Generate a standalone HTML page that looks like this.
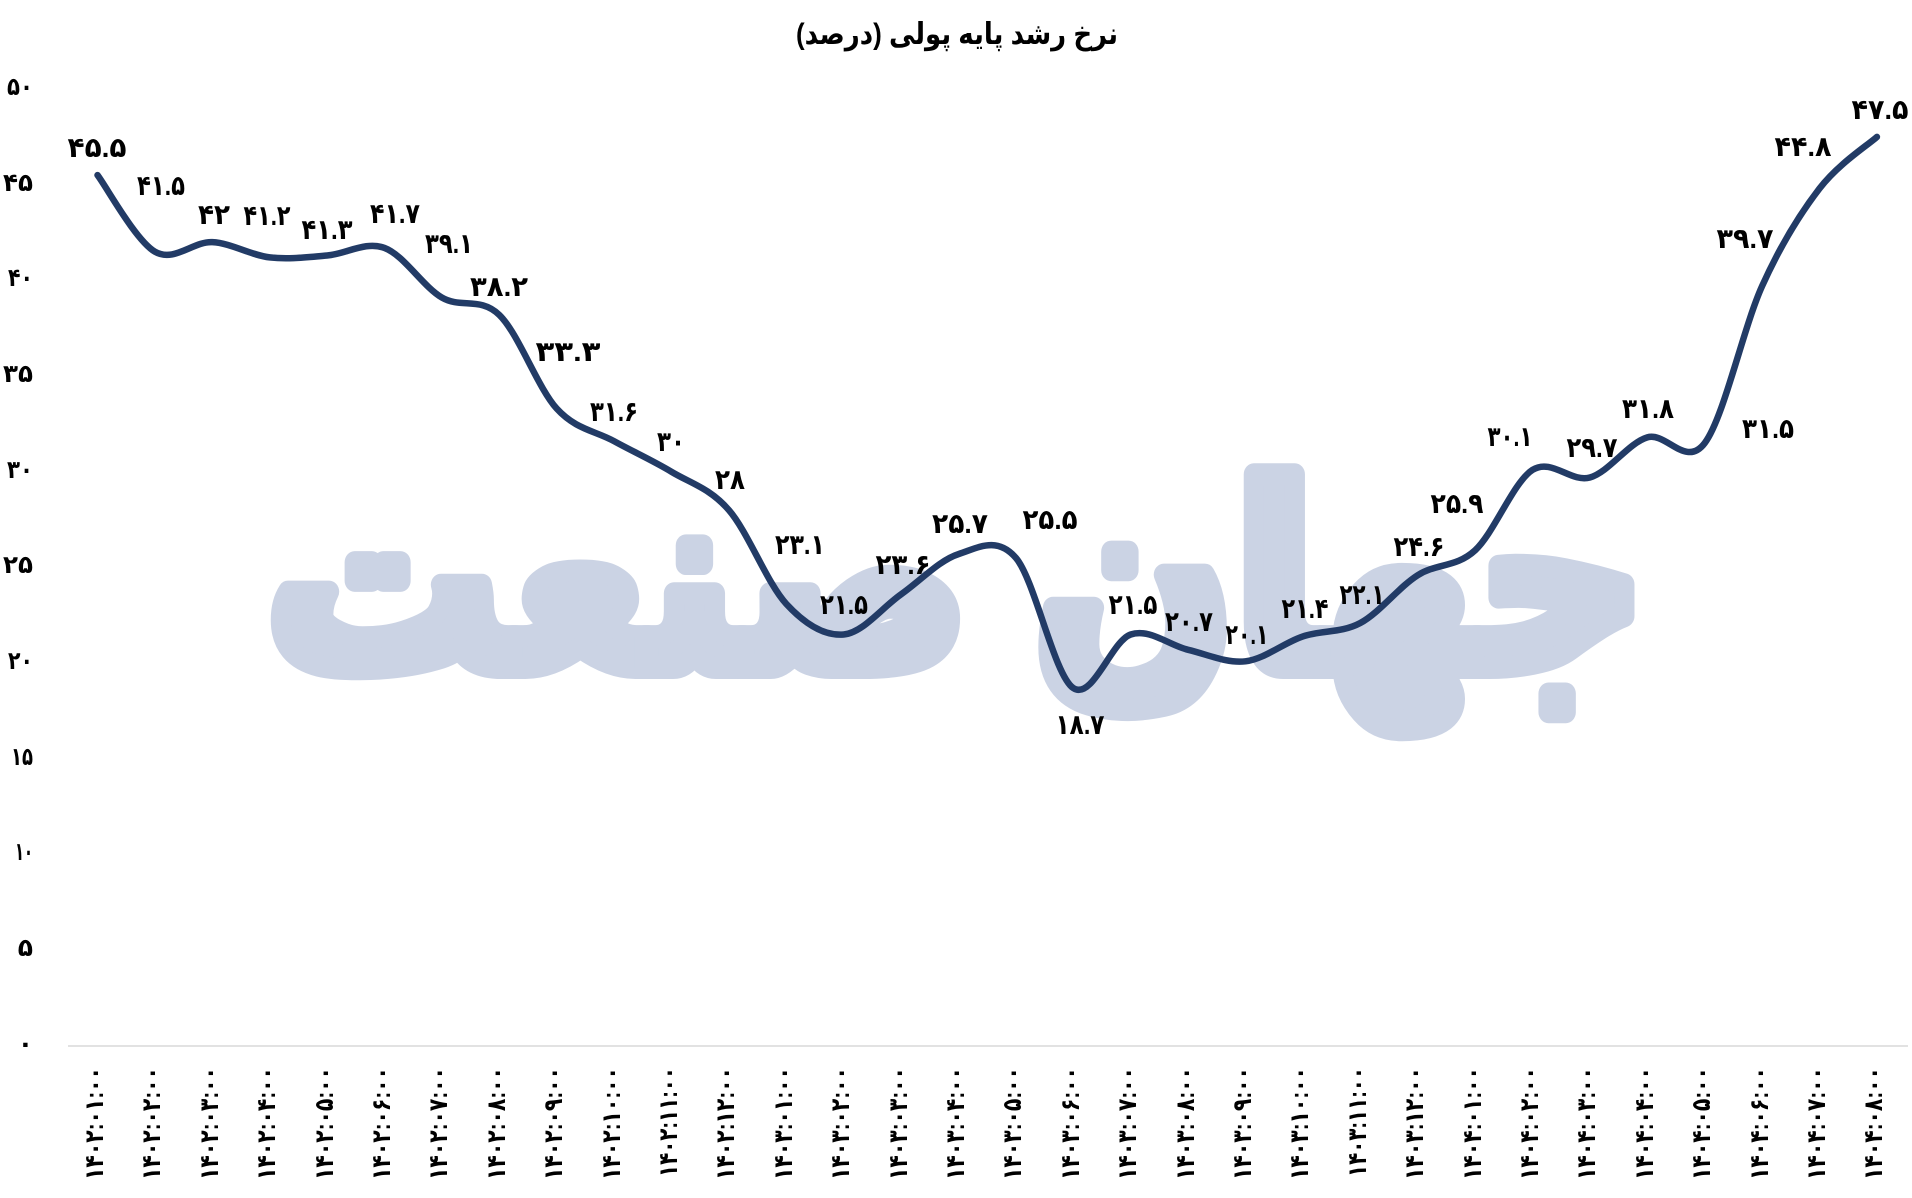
<!DOCTYPE html>
<html><head><meta charset="utf-8">
<style>
html,body{margin:0;padding:0;background:#fff;}
body{width:1912px;height:1198px;overflow:hidden;}
svg{display:block;}
text{font-family:"Liberation Sans","DejaVu Sans",sans-serif;font-weight:bold;fill:#000;}
.wm{fill:#cbd3e4;stroke:#cbd3e4;stroke-width:22;stroke-linejoin:round;}
.yt{font-size:25px;}
.xt{font-size:26px;}
.dl{font-size:28px;}
</style></head>
<body>
<svg width="1912" height="1198" viewBox="0 0 1912 1198" xmlns="http://www.w3.org/2000/svg">
<rect x="0" y="0" width="1912" height="1198" fill="#fff"/>
<!-- watermark -->
<text class="wm" x="956" y="668" font-size="255" text-anchor="middle" direction="rtl" textLength="1380" lengthAdjust="spacingAndGlyphs">جهان صنعت</text>

<!-- title -->
<text x="957" y="44" font-size="30" text-anchor="middle" direction="rtl" textLength="322" lengthAdjust="spacingAndGlyphs">نرخ رشد پایه پولی (درصد)</text>

<!-- axis line -->
<line x1="68" y1="1046" x2="1908" y2="1046" stroke="#d9d9d9" stroke-width="1.5"/>

<!-- y tick labels -->
<g class="yt" text-anchor="end">
<text x="33" y="95" textLength="26" lengthAdjust="spacingAndGlyphs">۵۰</text>
<text x="33" y="191" textLength="30" lengthAdjust="spacingAndGlyphs">۴۵</text>
<text x="33" y="286" textLength="25" lengthAdjust="spacingAndGlyphs">۴۰</text>
<text x="33" y="382" textLength="30" lengthAdjust="spacingAndGlyphs">۳۵</text>
<text x="33" y="478" textLength="26" lengthAdjust="spacingAndGlyphs">۳۰</text>
<text x="33" y="573" textLength="30" lengthAdjust="spacingAndGlyphs">۲۵</text>
<text x="33" y="669" textLength="25" lengthAdjust="spacingAndGlyphs">۲۰</text>
<text x="33" y="765" textLength="22" lengthAdjust="spacingAndGlyphs">۱۵</text>
<text x="33" y="860" textLength="18" lengthAdjust="spacingAndGlyphs">۱۰</text>
<text x="33" y="956">۵</text>
<text x="33" y="1052">۰</text>
</g>

<!-- x tick labels -->
<g class="xt" text-anchor="end">
<text transform="translate(103,1067) rotate(-90)" textLength="113" lengthAdjust="spacingAndGlyphs">۱۴۰۲:۰۱:۰۰</text>
<text transform="translate(160,1067) rotate(-90)" textLength="113" lengthAdjust="spacingAndGlyphs">۱۴۰۲:۰۲:۰۰</text>
<text transform="translate(218,1067) rotate(-90)" textLength="113" lengthAdjust="spacingAndGlyphs">۱۴۰۲:۰۳:۰۰</text>
<text transform="translate(275,1067) rotate(-90)" textLength="113" lengthAdjust="spacingAndGlyphs">۱۴۰۲:۰۴:۰۰</text>
<text transform="translate(333,1067) rotate(-90)" textLength="113" lengthAdjust="spacingAndGlyphs">۱۴۰۲:۰۵:۰۰</text>
<text transform="translate(390,1067) rotate(-90)" textLength="113" lengthAdjust="spacingAndGlyphs">۱۴۰۲:۰۶:۰۰</text>
<text transform="translate(447,1067) rotate(-90)" textLength="113" lengthAdjust="spacingAndGlyphs">۱۴۰۲:۰۷:۰۰</text>
<text transform="translate(505,1067) rotate(-90)" textLength="113" lengthAdjust="spacingAndGlyphs">۱۴۰۲:۰۸:۰۰</text>
<text transform="translate(562,1067) rotate(-90)" textLength="113" lengthAdjust="spacingAndGlyphs">۱۴۰۲:۰۹:۰۰</text>
<text transform="translate(620,1067) rotate(-90)" textLength="113" lengthAdjust="spacingAndGlyphs">۱۴۰۲:۱۰:۰۰</text>
<text transform="translate(677,1067) rotate(-90)" textLength="110" lengthAdjust="spacingAndGlyphs">۱۴۰۲:۱۱:۰۰</text>
<text transform="translate(734,1067) rotate(-90)" textLength="113" lengthAdjust="spacingAndGlyphs">۱۴۰۲:۱۲:۰۰</text>
<text transform="translate(792,1067) rotate(-90)" textLength="113" lengthAdjust="spacingAndGlyphs">۱۴۰۳:۰۱:۰۰</text>
<text transform="translate(849,1067) rotate(-90)" textLength="113" lengthAdjust="spacingAndGlyphs">۱۴۰۳:۰۲:۰۰</text>
<text transform="translate(907,1067) rotate(-90)" textLength="113" lengthAdjust="spacingAndGlyphs">۱۴۰۳:۰۳:۰۰</text>
<text transform="translate(964,1067) rotate(-90)" textLength="113" lengthAdjust="spacingAndGlyphs">۱۴۰۳:۰۴:۰۰</text>
<text transform="translate(1021,1067) rotate(-90)" textLength="113" lengthAdjust="spacingAndGlyphs">۱۴۰۳:۰۵:۰۰</text>
<text transform="translate(1079,1067) rotate(-90)" textLength="113" lengthAdjust="spacingAndGlyphs">۱۴۰۳:۰۶:۰۰</text>
<text transform="translate(1136,1067) rotate(-90)" textLength="113" lengthAdjust="spacingAndGlyphs">۱۴۰۳:۰۷:۰۰</text>
<text transform="translate(1194,1067) rotate(-90)" textLength="113" lengthAdjust="spacingAndGlyphs">۱۴۰۳:۰۸:۰۰</text>
<text transform="translate(1251,1067) rotate(-90)" textLength="113" lengthAdjust="spacingAndGlyphs">۱۴۰۳:۰۹:۰۰</text>
<text transform="translate(1308,1067) rotate(-90)" textLength="113" lengthAdjust="spacingAndGlyphs">۱۴۰۳:۱۰:۰۰</text>
<text transform="translate(1366,1067) rotate(-90)" textLength="110" lengthAdjust="spacingAndGlyphs">۱۴۰۳:۱۱:۰۰</text>
<text transform="translate(1423,1067) rotate(-90)" textLength="113" lengthAdjust="spacingAndGlyphs">۱۴۰۳:۱۲:۰۰</text>
<text transform="translate(1481,1067) rotate(-90)" textLength="113" lengthAdjust="spacingAndGlyphs">۱۴۰۴:۰۱:۰۰</text>
<text transform="translate(1538,1067) rotate(-90)" textLength="113" lengthAdjust="spacingAndGlyphs">۱۴۰۴:۰۲:۰۰</text>
<text transform="translate(1595,1067) rotate(-90)" textLength="113" lengthAdjust="spacingAndGlyphs">۱۴۰۴:۰۳:۰۰</text>
<text transform="translate(1653,1067) rotate(-90)" textLength="113" lengthAdjust="spacingAndGlyphs">۱۴۰۴:۰۴:۰۰</text>
<text transform="translate(1710,1067) rotate(-90)" textLength="113" lengthAdjust="spacingAndGlyphs">۱۴۰۴:۰۵:۰۰</text>
<text transform="translate(1768,1067) rotate(-90)" textLength="113" lengthAdjust="spacingAndGlyphs">۱۴۰۴:۰۶:۰۰</text>
<text transform="translate(1825,1067) rotate(-90)" textLength="113" lengthAdjust="spacingAndGlyphs">۱۴۰۴:۰۷:۰۰</text>
<text transform="translate(1882,1067) rotate(-90)" textLength="113" lengthAdjust="spacingAndGlyphs">۱۴۰۴:۰۸:۰۰</text>
</g>

<!-- series line -->
<path fill="none" stroke="#223b66" stroke-width="6.5" stroke-linecap="round" stroke-linejoin="round"
d="M97.5,175.1
C107.07,187.87 135.77,240.53 154.9,251.7
C174.03,262.87 193.17,241.15 212.3,242.1
C231.43,243.05 250.57,255.17 269.7,257.4
C288.83,259.63 307.97,257.08 327.1,255.5
C346.23,253.92 365.37,240.88 384.5,247.9
C403.63,254.92 422.77,286.43 441.9,297.6
C461.03,308.77 480.17,296.4 499.3,314.9
C518.43,333.4 537.57,387.55 556.7,408.6
C575.83,429.65 594.97,430.67 614.1,441.2
C633.23,451.73 652.37,460.32 671.5,471.8
C690.63,483.28 709.77,488.08 728.9,510.1
C748.03,532.12 767.17,583.17 786.3,603.9
C805.43,624.63 824.57,636.1 843.7,634.5
C862.83,632.9 881.97,607.7 901.1,594.3
C920.23,580.9 939.37,560.17 958.5,554.1
C977.63,548.03 996.77,535.57 1015.9,557.9
C1035.03,580.23 1054.17,675.33 1073.3,688.1
C1092.43,700.87 1111.57,640.88 1130.7,634.5
C1149.83,628.12 1168.97,645.33 1188.1,649.8
C1207.23,654.27 1226.37,663.53 1245.5,661.3
C1264.63,659.07 1283.77,642.78 1302.9,636.4
C1322.03,630.02 1341.17,633.2 1360.3,623
C1379.43,612.8 1398.57,587.32 1417.7,575.2
C1436.83,563.08 1455.97,567.85 1475.1,550.3
C1494.23,532.75 1513.37,482.03 1532.5,469.9
C1551.63,457.77 1570.77,482.92 1589.9,477.5
C1609.03,472.08 1628.17,443.13 1647.3,437.4
C1666.43,431.67 1685.57,468.32 1704.7,443.1
C1723.83,417.88 1742.97,328.53 1762.1,286.1
C1781.23,243.67 1800.37,213.37 1819.5,188.5
C1838.63,163.63 1867.33,145.5 1876.9,136.9"/>

<!-- data labels -->
<g class="dl" text-anchor="middle">
<text x="97" y="157" textLength="59" lengthAdjust="spacingAndGlyphs">۴۵.۵</text>
<text x="161" y="195" textLength="48" lengthAdjust="spacingAndGlyphs">۴۱.۵</text>
<text x="214" y="224" textLength="32" lengthAdjust="spacingAndGlyphs">۴۲</text>
<text x="267" y="225" textLength="47" lengthAdjust="spacingAndGlyphs">۴۱.۲</text>
<text x="327" y="239" textLength="51" lengthAdjust="spacingAndGlyphs">۴۱.۳</text>
<text x="395" y="223" textLength="50" lengthAdjust="spacingAndGlyphs">۴۱.۷</text>
<text x="449" y="253" textLength="48" lengthAdjust="spacingAndGlyphs">۳۹.۱</text>
<text x="499" y="296" textLength="58" lengthAdjust="spacingAndGlyphs">۳۸.۲</text>
<text x="568" y="361" textLength="65" lengthAdjust="spacingAndGlyphs">۳۳.۳</text>
<text x="614" y="421" textLength="48" lengthAdjust="spacingAndGlyphs">۳۱.۶</text>
<text x="671" y="451" textLength="28" lengthAdjust="spacingAndGlyphs">۳۰</text>
<text x="730" y="489" textLength="30" lengthAdjust="spacingAndGlyphs">۲۸</text>
<text x="800" y="554" textLength="50" lengthAdjust="spacingAndGlyphs">۲۳.۱</text>
<text x="844" y="614" textLength="48" lengthAdjust="spacingAndGlyphs">۲۱.۵</text>
<text x="903" y="574" textLength="55" lengthAdjust="spacingAndGlyphs">۲۳.۶</text>
<text x="960" y="533" textLength="56" lengthAdjust="spacingAndGlyphs">۲۵.۷</text>
<text x="1050" y="529" textLength="55" lengthAdjust="spacingAndGlyphs">۲۵.۵</text>
<text x="1080" y="734" textLength="49" lengthAdjust="spacingAndGlyphs">۱۸.۷</text>
<text x="1133" y="614" textLength="49" lengthAdjust="spacingAndGlyphs">۲۱.۵</text>
<text x="1189" y="631" textLength="48" lengthAdjust="spacingAndGlyphs">۲۰.۷</text>
<text x="1247" y="644" textLength="43" lengthAdjust="spacingAndGlyphs">۲۰.۱</text>
<text x="1305" y="618" textLength="47" lengthAdjust="spacingAndGlyphs">۲۱.۴</text>
<text x="1362" y="604" textLength="45" lengthAdjust="spacingAndGlyphs">۲۲.۱</text>
<text x="1419" y="556" textLength="51" lengthAdjust="spacingAndGlyphs">۲۴.۶</text>
<text x="1457" y="513" textLength="53" lengthAdjust="spacingAndGlyphs">۲۵.۹</text>
<text x="1510" y="446" textLength="45" lengthAdjust="spacingAndGlyphs">۳۰.۱</text>
<text x="1592" y="457" textLength="51" lengthAdjust="spacingAndGlyphs">۲۹.۷</text>
<text x="1648" y="418" textLength="52" lengthAdjust="spacingAndGlyphs">۳۱.۸</text>
<text x="1768" y="438" textLength="52" lengthAdjust="spacingAndGlyphs">۳۱.۵</text>
<text x="1745" y="248" textLength="57" lengthAdjust="spacingAndGlyphs">۳۹.۷</text>
<text x="1803" y="156" textLength="57" lengthAdjust="spacingAndGlyphs">۴۴.۸</text>
<text x="1880" y="119" textLength="57" lengthAdjust="spacingAndGlyphs">۴۷.۵</text>
</g>
</svg>
</body></html>
